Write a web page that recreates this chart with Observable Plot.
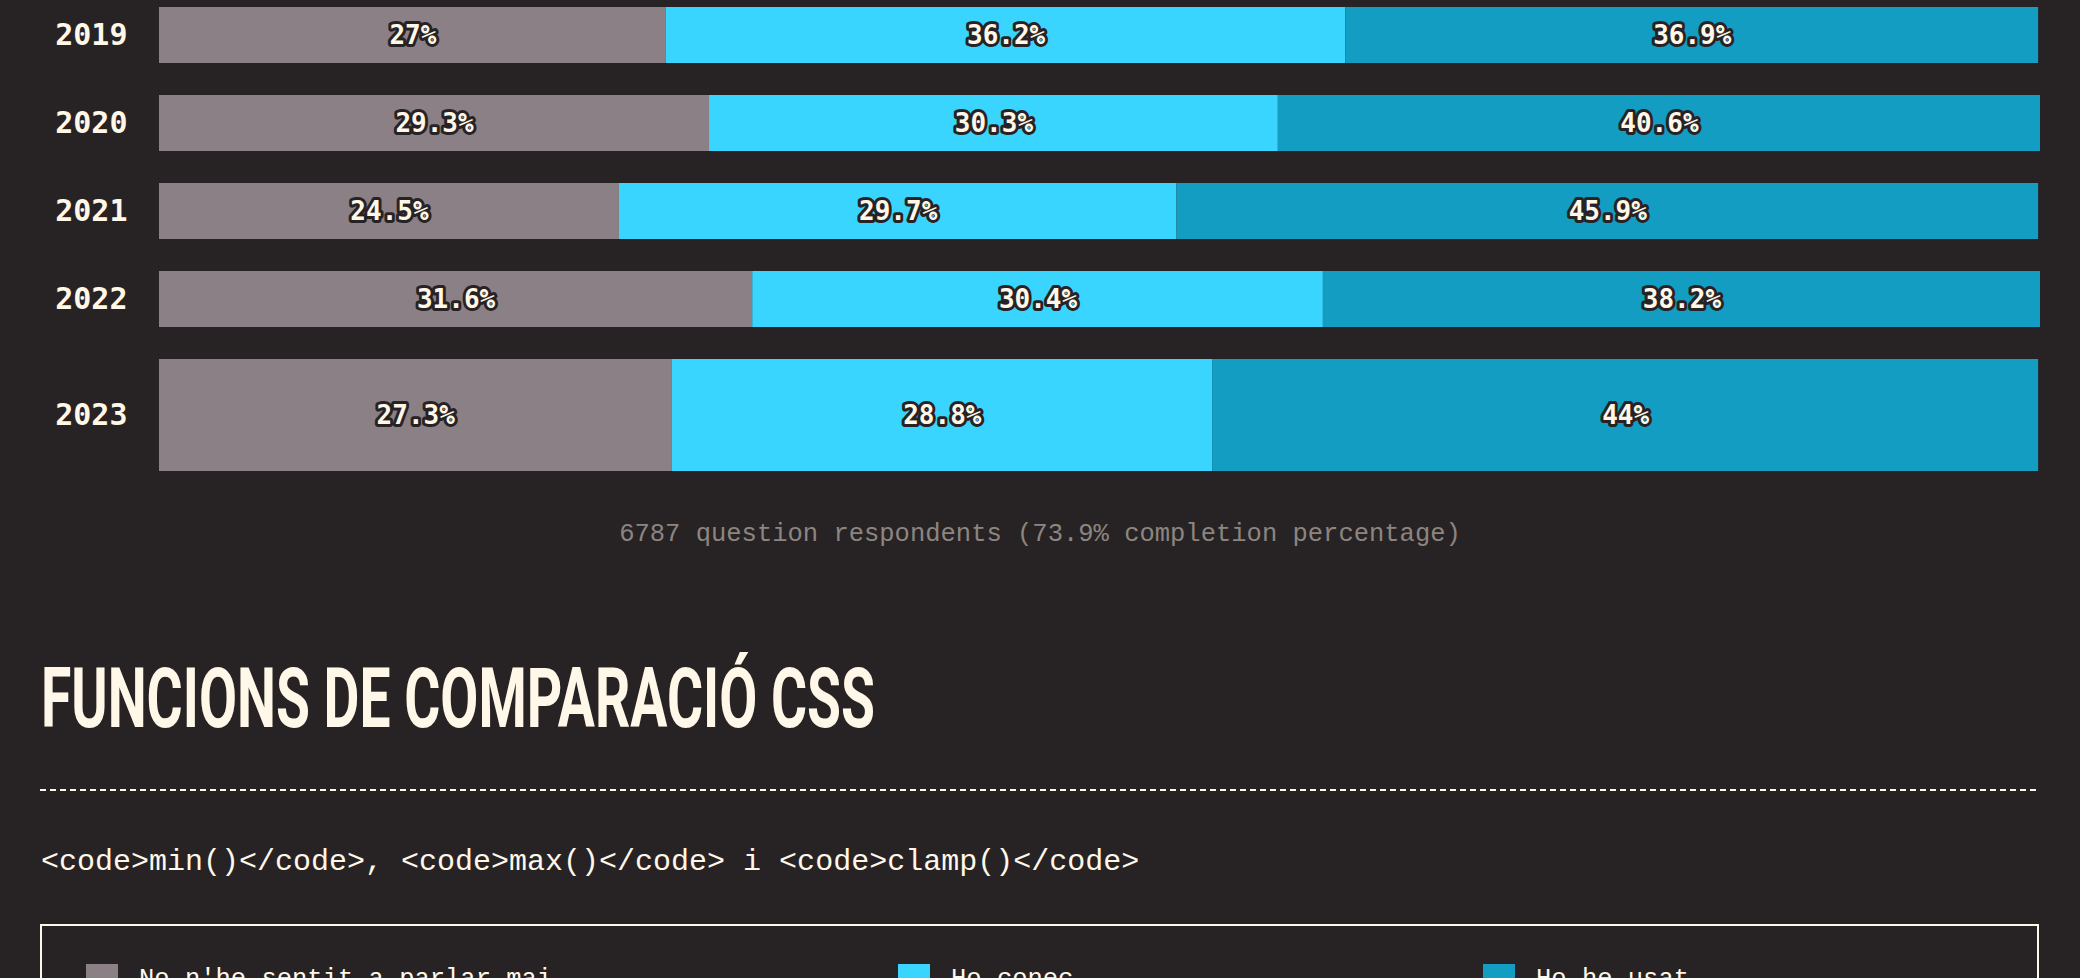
<!DOCTYPE html>
<html>
<head>
<meta charset="utf-8">
<script src="https://cdn.jsdelivr.net/npm/d3@7"></script>
<script src="https://cdn.jsdelivr.net/npm/@observablehq/plot@0.6"></script>
<style>
  html, body { margin: 0; padding: 0; background: #272325; }
  body { width: 2080px; height: 978px; overflow: hidden; position: relative;
         font-family: "Liberation Mono", "DejaVu Sans Mono", monospace; color: #fff7e8; }
  #chart { position: absolute; left: 0; top: 0; }
  .caption { position: absolute; left: 40px; width: 2000px; top: 522px; text-align: center;
             font-size: 25.5px; line-height: 26px; color: #8c8580; white-space: pre; }
  .title { position: absolute; left: 41px; top: 657px; font-family: Roboto, "Open Sans", sans-serif;
           font-weight: 700; font-size: 83px; line-height: 83px; white-space: nowrap;
           transform-origin: left top; color: #fff7e8; }
  .rule { position: absolute; left: 40px; width: 1999px; top: 789px; height: 2px;
          background: repeating-linear-gradient(to right, #fff7e8 0 6px, transparent 6px 10px); }
  .subtitle { position: absolute; left: 41px; top: 847px; font-size: 30px; line-height: 30px;
              white-space: pre; color: #fff7e8; }
  .legend { position: absolute; left: 40px; top: 924px; width: 1999px; height: 200px;
            border: 2px solid #fff7e8; box-sizing: border-box; padding: 38px 0 0 44px;
            display: grid; grid-template-columns: 812px 585px auto; align-content: start; }
  .legend .item { display: flex; align-items: center; height: 32px; font-size: 25.5px; line-height: 26px; white-space: pre; }
  .legend .sw { width: 32px; height: 32px; margin-right: 21px; flex: none; }
</style>
</head>
<body>
<div id="chart"></div>
<div class="caption" id="caption"></div>
<div class="title" id="title"></div>
<div class="rule"></div>
<div class="subtitle" id="subtitle"></div>
<div class="legend" id="legend"></div>
<script>
// ---- data ----
const years = ["2019", "2020", "2021", "2022", "2023"];
const currentYear = "2023";
const categories = ["No n'he sentit a parlar mai", "Ho conec", "Ho he usat"];
const neverHeard = [27, 29.3, 24.5, 31.6, 27.3];
const know = [36.2, 30.3, 29.7, 30.4, 28.8];
const used = [36.9, 40.6, 45.9, 38.2, 44];
const colors = ["#8b8085", "#3ad5ff", "#139dc2"];
const captionText = "6787 question respondents (73.9% completion percentage)";
const titleText = "FUNCIONS DE COMPARACIÓ CSS";
const subtitleText = "<code>min()</code>, <code>max()</code> i <code>clamp()</code>";

// ---- table built from arrays ----
const series = [neverHeard, know, used];
const rows = years.flatMap((year, i) =>
  categories.map((category, j) => ({year, category, value: series[j][i]})));
const maxTotal = d3.max(years, (_, i) => d3.sum(series, s => s[i]));

const BAR = 56;
const cream = "#fff7e8";
const bg = "#272325";
const isCur = d => d.year === currentYear;
const notCur = d => d.year !== currentYear;

const labelStyle = {
  text: d => `${d.value}%`,
  fill: cream, stroke: bg, strokeWidth: 6, paintOrder: "stroke", strokeLinejoin: "round",
  fontSize: 26, fontWeight: "bold", fontFamily: "DejaVu Sans Mono, monospace"
};
const axisStyle = {
  tickSize: 0, tickPadding: 32, label: null, fill: cream,
  fontSize: 30, fontWeight: "bold", fontFamily: "DejaVu Sans Mono, monospace"
};

const plot = Plot.plot({
  width: 2080,
  height: 519,
  marginLeft: 159,
  marginRight: 40,
  marginTop: 7,
  marginBottom: 104,
  style: {background: "transparent", color: cream},
  x: {domain: [0, maxTotal], axis: null},
  y: {type: "band", domain: years, paddingInner: 32 / 88, paddingOuter: 0, axis: null, label: null},
  color: {domain: categories, range: colors},
  marks: [
    Plot.barX(rows, Plot.stackX({filter: notCur, y: "year", x: "value", fill: "category"})),
    Plot.barX(rows, Plot.stackX({filter: isCur, y: "year", x: "value", fill: "category", insetBottom: -BAR})),
    Plot.text(rows, Plot.stackX({filter: notCur, y: "year", x: "value", ...labelStyle})),
    Plot.text(rows, Plot.stackX({filter: isCur, y: "year", x: "value", dy: BAR / 2, ...labelStyle})),
    Plot.axisY({ticks: years.filter(y => y !== currentYear), ...axisStyle}),
    Plot.axisY({ticks: [currentYear], dy: BAR / 2, ...axisStyle})
  ]
});
document.getElementById("chart").appendChild(plot);

document.getElementById("caption").textContent = captionText;
document.getElementById("subtitle").textContent = subtitleText;
const t = document.getElementById("title");
t.textContent = titleText;
const w = t.getBoundingClientRect().width;
t.style.transform = `scaleX(${834 / w})`;

const legend = document.getElementById("legend");
categories.forEach((c, i) => {
  const item = document.createElement("div");
  item.className = "item";
  const sw = document.createElement("span");
  sw.className = "sw";
  sw.style.background = colors[i];
  const lab = document.createElement("span");
  lab.textContent = c;
  item.appendChild(sw);
  item.appendChild(lab);
  legend.appendChild(item);
});
</script>
</body>
</html>
